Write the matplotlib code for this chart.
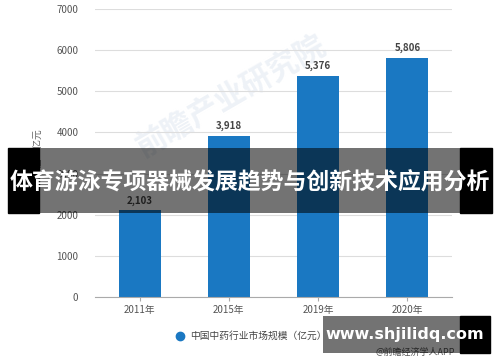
import matplotlib.pyplot as plt
from matplotlib.patches import Rectangle
from matplotlib.lines import Line2D

plt.rcParams['font.family'] = ['Noto Sans CJK SC', 'DejaVu Sans']

years = ['2011年', '2015年', '2019年', '2020年']
values = [2103, 3918, 5376, 5806]
yticks = [0, 1000, 2000, 3000, 4000, 5000, 6000, 7000]
bar_color = '#1a78c2'

W, H = 500, 362
fig = plt.figure(figsize=(W / 100, H / 100), dpi=100)
ax = fig.add_axes([95 / W, 1 - 297 / H, (452 - 95) / W, (297 - 9) / H])

x = range(len(years))
ax.bar(x, values, width=0.47, color=bar_color, zorder=2)
for i, v in zip(x, values):
    ax.text(i, v + 120, f'{v:,}', ha='center', va='bottom', fontsize=7,
            fontweight='bold', color='#444444', zorder=3)

ax.set_xlim(-0.5, len(years) - 0.5)
ax.set_ylim(0, 7000)
ax.set_yticks(yticks)
ax.set_yticklabels([str(t) for t in yticks], fontsize=7, color='#555555')
ax.set_xticks(list(x))
ax.set_xticklabels(years, fontsize=7, color='#555555')
ax.tick_params(axis='y', length=0, pad=12)
ax.tick_params(axis='x', length=3, color='#aaaaaa', pad=3)
ax.grid(axis='y', color='#dddddd', linewidth=0.8, zorder=0)
for s in ['top', 'right', 'left']:
    ax.spines[s].set_visible(False)
ax.spines['bottom'].set_color('#aaaaaa')
ax.set_ylabel('单位：亿元', fontsize=7, color='#666666', labelpad=10)

# faint watermark, under the bars
ax.text(0.38, 0.7, '前瞻产业研究院', transform=ax.transAxes, fontsize=22,
        color='#eef2f7', rotation=30, ha='center', va='center',
        fontweight='bold', zorder=1)

# legend
fig.add_artist(Line2D([180 / W], [1 - 336 / H], marker='o', markersize=6,
                      color=bar_color, linestyle='none'))
fig.text(190 / W, 1 - 336 / H, '中国中药行业市场规模（亿元）', fontsize=7,
         color='#444444', va='center')
fig.text(455 / W, 1 - 352 / H, '@前瞻经济学人APP', fontsize=6.5,
         color='#555555', va='center', ha='right')

# title banner overlay
def px_rect(x0, y0, x1, y1, **kw):
    r = Rectangle((x0 / W, 1 - y1 / H), (x1 - x0) / W, (y1 - y0) / H,
                  transform=fig.transFigure, **kw)
    fig.add_artist(r)

px_rect(8, 148, 39, 213, color='black', zorder=5)
px_rect(460, 148, 492, 213, color='black', zorder=5)
px_rect(39, 148, 460, 213, color='black', alpha=0.55, zorder=5, linewidth=0)
fig.text(0.5, 1 - 183 / H, '体育游泳专项器械发展趋势与创新技术应用分析',
         fontsize=16.5, fontweight='bold', color='white', ha='center',
         va='center', zorder=6)

# site banner
px_rect(323, 316, 460, 353, color='black', alpha=0.55, zorder=5, linewidth=0)
px_rect(460, 316, 490, 353, color='black', zorder=5)
fig.text(405 / W, 1 - 334 / H, 'www.shjilidq.com', fontsize=11.5,
         fontweight='bold', color='white', ha='center', va='center',
         family='DejaVu Sans', zorder=6)

fig.savefig('out.png', dpi=100)
